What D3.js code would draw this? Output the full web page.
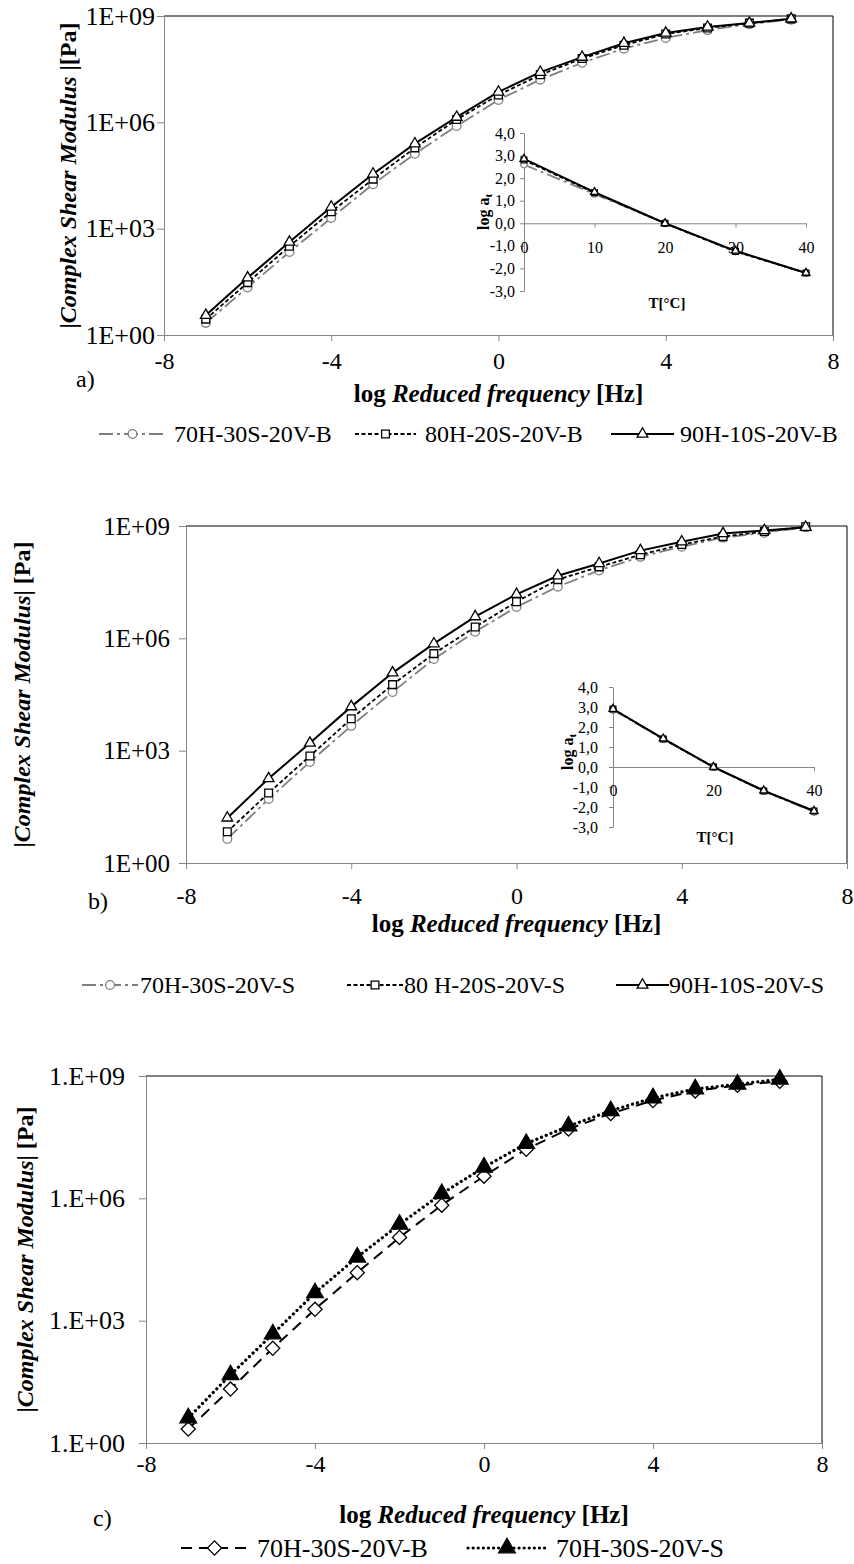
<!DOCTYPE html>
<html lang="en">
<head>
<meta charset="UTF-8">
<title>Complex Shear Modulus master curves</title>
<style>
  body { margin: 0; background: #fff; }
  svg { font-family: "Liberation Serif", "Times New Roman", serif; }
</style>
</head>
<body>
<svg id="fig" width="854" height="1564" font-family="Liberation Serif, Times New Roman, serif"></svg>
<script src="https://d3js.org/d3.v7.min.js"></script>
<script>
// log reduced frequency [Hz] of the measured points
const logFreq = [-7, -6, -5, -4, -3, -2, -1, 0, 1, 2, 3, 4, 5, 6, 7];

// |G*| [Pa], panel a (binders B)
const modA70B = [2.2, 22, 220, 2.0e3, 1.8e4, 1.3e5, 7.9e5, 4.3e6, 1.6e7, 4.8e7, 1.2e8, 2.4e8, 4.0e8, 5.9e8, 7.9e8];
const modA80B = [2.8, 30, 320, 3.0e3, 2.5e4, 1.9e5, 1.2e6, 5.9e6, 2.2e7, 6.3e7, 1.5e8, 3.1e8, 4.6e8, 6.3e8, 8.3e8];
const modA90B = [3.6, 41, 420, 4.1e3, 3.5e4, 2.5e5, 1.4e6, 7.2e6, 2.6e7, 6.9e7, 1.7e8, 3.3e8, 4.9e8, 6.3e8, 8.3e8];

// |G*| [Pa], panel b (binders S)
const modB70S = [4.4, 51, 500, 4.6e3, 3.7e4, 2.8e5, 1.5e6, 6.9e6, 2.4e7, 6.5e7, 1.5e8, 2.8e8, 4.9e8, 6.6e8, 9.3e8];
const modB80S = [6.8, 74, 720, 7.1e3, 5.8e4, 3.9e5, 2.0e6, 9.5e6, 3.7e7, 8.1e7, 1.7e8, 3.2e8, 5.2e8, 7.1e8, 9.5e8];
const modB90S = [16, 180, 1.6e3, 1.5e4, 1.2e5, 7.2e5, 3.8e6, 1.5e7, 4.7e7, 1.0e8, 2.2e8, 3.8e8, 6.3e8, 7.6e8, 9.3e8];

// |G*| [Pa], panel c
const modC70B = [2.2, 21, 210, 1.9e3, 1.5e4, 1.1e5, 6.8e5, 3.5e6, 1.6e7, 5.0e7, 1.2e8, 2.5e8, 4.3e8, 5.9e8, 7.4e8];
const modC70S = [4.1, 47, 470, 4.8e3, 3.6e4, 2.3e5, 1.3e6, 5.8e6, 2.2e7, 5.9e7, 1.4e8, 2.9e8, 4.8e8, 6.3e8, 8.3e8];

// shift factors log a_t (insets)
const tempC = [0, 10, 20, 30, 40];
const shiftA70B = [2.6, 1.3, 0, -1.25, -2.2];
const shiftA80B = [2.8, 1.35, 0, -1.25, -2.2];
const shiftA90B = [2.85, 1.38, 0, -1.22, -2.2];
const shiftB70S = [2.85, 1.4, 0, -1.2, -2.25];
const shiftB80S = [2.9, 1.4, 0, -1.2, -2.2];
const shiftB90S = [2.9, 1.42, 0, -1.18, -2.2];

// tick labels
const freqTicks = [-8, -4, 0, 4, 8];
const modTicks = [1, 1e3, 1e6, 1e9];
const shiftTicks = [4, 3, 2, 1, 0, -1, -2, -3];

const svg = d3.select('#fig');
const AXIS_GREY = '#868686';
const SERIF = 'Liberation Serif, Times New Roman, serif';

// line + marker styles
const st = {
  g70: { color: '#7f7f7f', dash: '14,4,3,4', width: 1.8, symbol: 'circle', fill: '#fff', size: 60 },
  d80: { color: '#000', dash: '4,2.5', width: 1.8, symbol: 'square', fill: '#fff', size: 60 },
  s90: { color: '#000', dash: null, width: 2, symbol: 'triangle', fill: '#fff', size: 50 },
  c70B: { color: '#000', dash: '11,7', width: 2, symbol: 'diamond', fill: '#fff', size: 100 },
  c70S: { color: '#000', dash: '0.1,5', width: 3.2, cap: 'round', symbol: 'triangle', fill: '#000', size: 120 }
};

function symbolPath(s, size) {
  const type = { circle: d3.symbolCircle, square: d3.symbolSquare, triangle: d3.symbolTriangle, diamond: d3.symbolSquare }[s.symbol];
  return d3.symbol().type(type).size(size)();
}

function drawMarker(g, s, cx, cy, size) {
  g.append('path')
    .attr('d', symbolPath(s, size))
    .attr('transform', `translate(${cx},${cy})` + (s.symbol === 'diamond' ? ' rotate(45)' : ''))
    .attr('fill', s.fill)
    .attr('stroke', s.color)
    .attr('stroke-width', 1.3);
}

function drawSeries(g, xs, ys, x, y, s, size) {
  g.append('path')
    .datum(ys)
    .attr('fill', 'none')
    .attr('stroke', s.color)
    .attr('stroke-width', s.width)
    .attr('stroke-dasharray', s.dash)
    .attr('stroke-linecap', s.cap || 'butt')
    .attr('d', d3.line().x((d, i) => x(xs[i])).y(d => y(d)));
  ys.forEach((v, i) => drawMarker(g, s, x(xs[i]), y(v), size));
}

function styleAxis(a, fontSize) {
  a.attr('font-family', SERIF).attr('font-size', null);
  a.selectAll('path, line').attr('stroke', AXIS_GREY);
  a.selectAll('text').attr('font-size', fontSize).attr('fill', '#000');
}

function titleText(g, parts, fontSize) {
  const t = g.append('text')
    .attr('text-anchor', 'middle')
    .attr('dy', '0.35em')
    .attr('font-weight', 'bold')
    .attr('font-size', fontSize);
  parts.forEach(p => t.append('tspan').attr('font-style', p[1] ? 'italic' : null).text(p[0]));
  return t;
}

function drawMain(p) {
  const x = d3.scaleLinear().domain([-8, 8]).range([p.left, p.right]);
  const y = d3.scaleLog().domain([1, 1e9]).range([p.bottom, p.top]);
  const g = svg.append('g');

  // plot frame (top and right)
  g.append('path')
    .attr('d', `M${x(-8)},${y(1e9)}H${x(8)}V${y(1)}`)
    .attr('fill', 'none').attr('stroke', '#000');

  const xAx = g.append('g')
    .attr('transform', `translate(0,${y(1)})`)
    .call(d3.axisBottom(x).tickValues(freqTicks).tickSize(6).tickSizeOuter(0)
      .tickPadding(p.xPad).tickFormat(d => String(d)));
  const yAx = g.append('g')
    .attr('transform', `translate(${x(-8)},0)`)
    .call(d3.axisLeft(y).tickValues(modTicks).tickSize(7).tickSizeOuter(0)
      .tickPadding(p.yPad).tickFormat(d => p.yPrefix + String(Math.round(Math.log10(d))).padStart(2, '0')));
  styleAxis(xAx, 24);
  styleAxis(yAx, p.yFont);

  if (p.inset) drawInset(p.inset);

  p.series.forEach(s => drawSeries(g, logFreq, s.values, x, y, s.style, s.style.size));

  // titles
  titleText(g, [['|'], ['Complex Shear Modulus', true], [p.yTail]], 24)
    .attr('transform', `translate(${p.yTitleX},${(y(1) + y(1e9)) / 2}) rotate(-90)`);
  titleText(g, [['log '], ['Reduced frequency', true], [' [Hz]']], 25)
    .attr('x', (x(-8) + x(8)) / 2).attr('y', p.xTitleY);
  g.append('text').attr('x', p.tagX).attr('y', p.tagY).attr('dy', '0.35em')
    .attr('font-size', 24).text(p.tag);

  // legend
  p.legend.forEach(l => {
    const lg = g.append('g');
    lg.append('line')
      .attr('x1', l.x0).attr('x2', l.x1).attr('y1', p.legendY).attr('y2', p.legendY)
      .attr('stroke', l.style.color).attr('stroke-width', l.style.width)
      .attr('stroke-dasharray', l.style.dash).attr('stroke-linecap', l.style.cap || 'butt');
    drawMarker(lg, l.style, (l.x0 + l.x1) / 2, p.legendY, l.style.size);
    lg.append('text').attr('x', l.tx).attr('y', p.legendY).attr('dy', '0.35em')
      .attr('font-size', p.legendFont).text(l.label);
  });
}

function drawInset(q) {
  const x = d3.scaleLinear().domain([0, 40]).range([q.left, q.right]);
  const y = d3.scaleLinear().domain([-3, 4]).range([q.bottom, q.top]);
  const g = svg.append('g');

  const yAx = g.append('g')
    .attr('transform', `translate(${x(0)},0)`)
    .call(d3.axisLeft(y).tickValues(shiftTicks).tickSize(4).tickSizeOuter(0)
      .tickPadding(q.yPad).tickFormat(d => d.toFixed(1).replace('.', ',')));
  const xAx = g.append('g')
    .attr('transform', `translate(0,${y(0)})`)
    .call(d3.axisBottom(x).tickValues(q.xTicks).tickSize(4).tickSizeOuter(0)
      .tickPadding(14).tickFormat(d => String(d)));
  styleAxis(yAx, 16);
  styleAxis(xAx, 16);

  q.series.forEach(s => drawSeries(g, tempC, s.values, x, y, s.style, s.style.size * 0.55));

  const lt = g.append('text')
    .attr('text-anchor', 'middle').attr('dy', '0.35em')
    .attr('font-weight', 'bold').attr('font-size', 16)
    .attr('transform', `translate(${q.laX},${q.laY}) rotate(-90)`);
  lt.append('tspan').text('log a');
  lt.append('tspan').attr('font-size', 11).attr('dy', '0.3em').text('t');
  g.append('text').attr('x', q.tX).attr('y', q.tY).attr('dy', '0.35em')
    .attr('text-anchor', 'middle').attr('font-weight', 'bold').attr('font-size', 15)
    .text('T[°C]');
}

// panel a
drawMain({
  left: 164, right: 833, top: 16, bottom: 335,
  xPad: 11, yPad: 2, yFont: 26, yPrefix: '1E+', yTail: ' |[Pa]', yTitleX: 68,
  xTitleY: 393, tag: 'a)', tagX: 76, tagY: 379,
  series: [
    { values: modA70B, style: st.g70 },
    { values: modA80B, style: st.d80 },
    { values: modA90B, style: st.s90 }
  ],
  inset: {
    left: 524, right: 806, top: 133, bottom: 291, yPad: 5, xTicks: [0, 10, 20, 30, 40],
    laX: 483, laY: 212, tX: 667, tY: 303,
    series: [
      { values: shiftA70B, style: st.g70 },
      { values: shiftA80B, style: st.d80 },
      { values: shiftA90B, style: st.s90 }
    ]
  },
  legendY: 434, legendFont: 24,
  legend: [
    { x0: 99, x1: 166, tx: 174, label: '70H-30S-20V-B', style: st.g70 },
    { x0: 355, x1: 416, tx: 425, label: '80H-20S-20V-B', style: st.d80 },
    { x0: 611, x1: 674, tx: 680, label: '90H-10S-20V-B', style: st.s90 }
  ]
});

// panel b
drawMain({
  left: 186, right: 847, top: 526, bottom: 863,
  xPad: 18, yPad: 9, yFont: 25, yPrefix: '1E+', yTail: '| [Pa]', yTitleX: 22,
  xTitleY: 923, tag: 'b)', tagX: 88, tagY: 901,
  series: [
    { values: modB70S, style: st.g70 },
    { values: modB80S, style: st.d80 },
    { values: modB90S, style: st.s90 }
  ],
  inset: {
    left: 613, right: 814, top: 687, bottom: 827, yPad: 11, xTicks: [0, 20, 40],
    laX: 567, laY: 752, tX: 715, tY: 837,
    series: [
      { values: shiftB70S, style: st.g70 },
      { values: shiftB80S, style: st.d80 },
      { values: shiftB90S, style: st.s90 }
    ]
  },
  legendY: 985, legendFont: 24,
  legend: [
    { x0: 82, x1: 138, tx: 140, label: '70H-30S-20V-S', style: st.g70 },
    { x0: 347, x1: 403, tx: 404, label: '80 H-20S-20V-S', style: st.d80 },
    { x0: 616, x1: 669, tx: 669, label: '90H-10S-20V-S', style: st.s90 }
  ]
});

// panel c
drawMain({
  left: 146, right: 822, top: 1076, bottom: 1443,
  xPad: 6, yPad: 14, yFont: 26, yPrefix: '1.E+', yTail: '| [Pa]', yTitleX: 25,
  xTitleY: 1514, tag: 'c)', tagX: 93, tagY: 1518,
  series: [
    { values: modC70B, style: st.c70B },
    { values: modC70S, style: st.c70S }
  ],
  legendY: 1548, legendFont: 26,
  legend: [
    { x0: 181, x1: 248, tx: 257, label: '70H-30S-20V-B', style: st.c70B },
    { x0: 468, x1: 546, tx: 556, label: '70H-30S-20V-S', style: st.c70S }
  ]
});
</script>
</body>
</html>
